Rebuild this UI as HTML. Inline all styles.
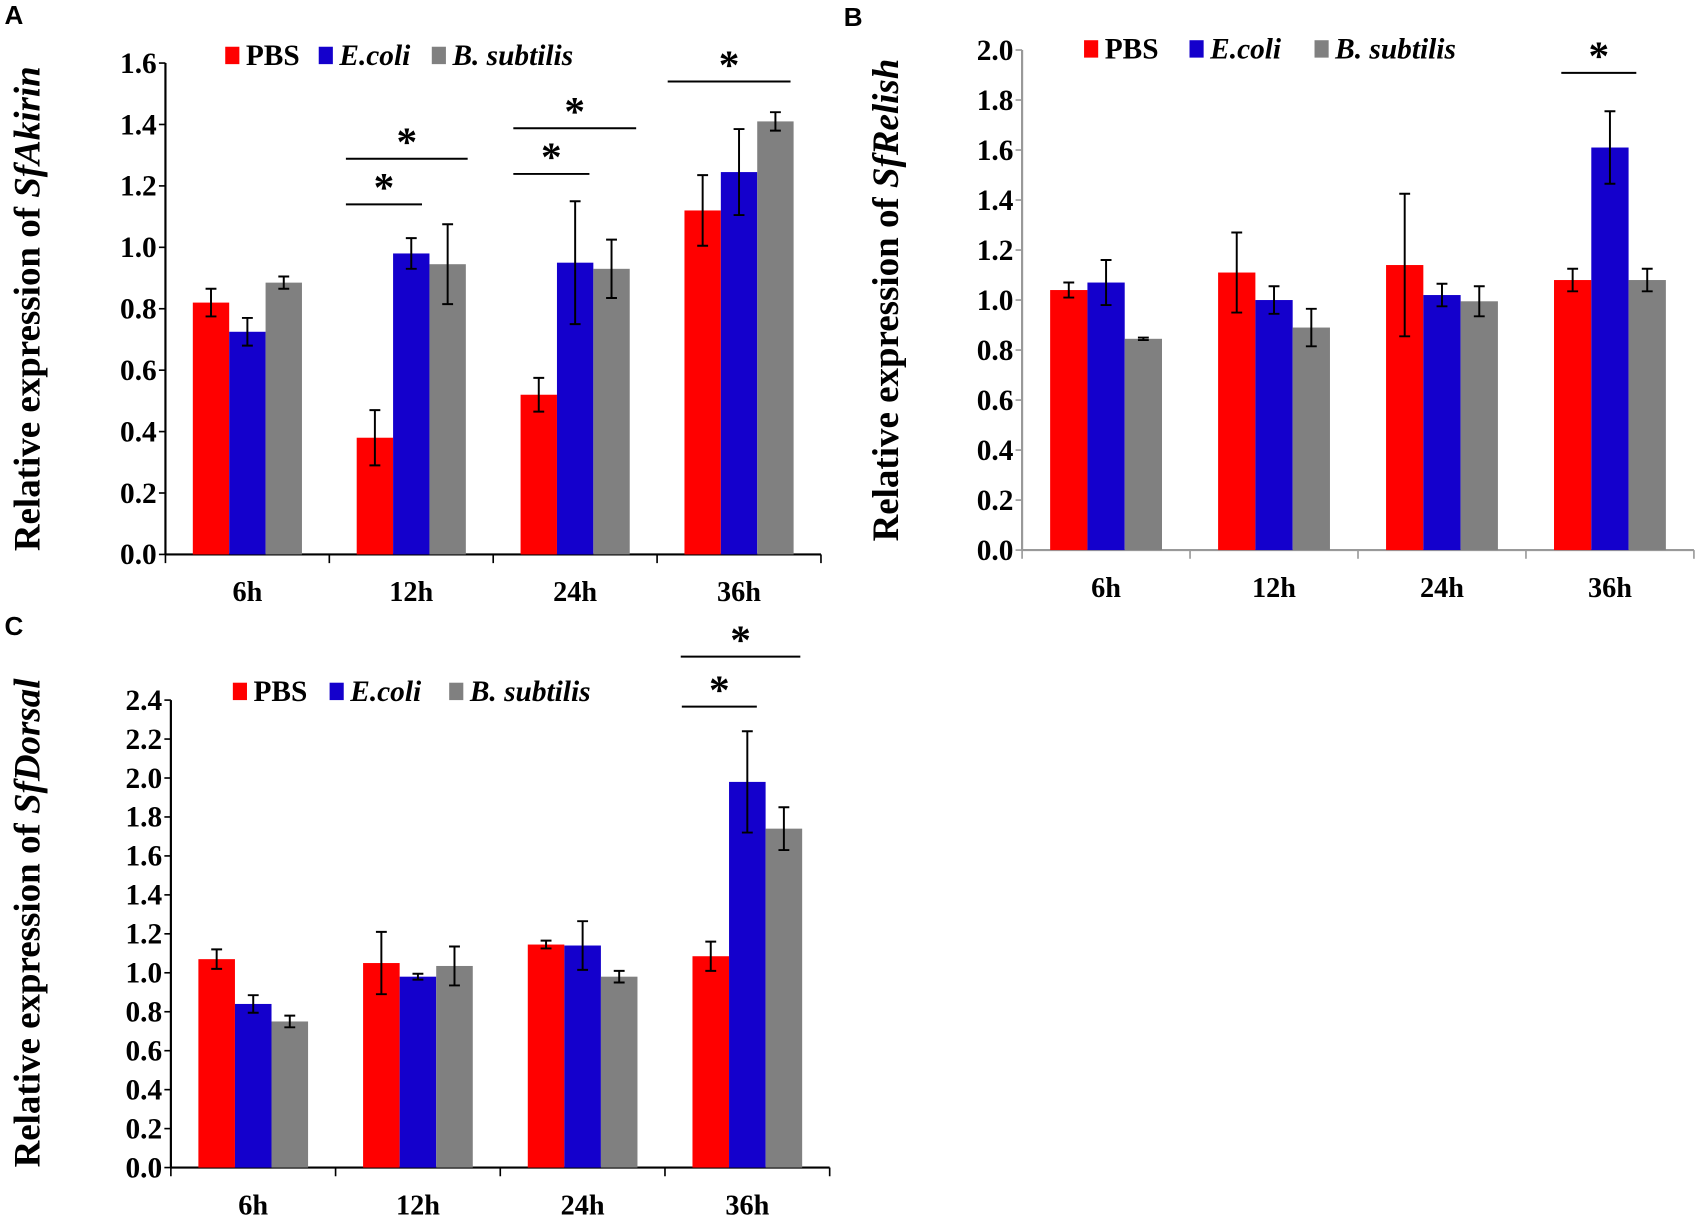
<!DOCTYPE html>
<html><head><meta charset="utf-8"><style>
html,body{margin:0;padding:0;background:#fff}
svg{display:block}
text{font-family:"Liberation Serif",serif;font-weight:bold;fill:#000}
</style></head><body>
<svg id="fig" width="1705" height="1223" viewBox="0 0 1568 1125" xmlns="http://www.w3.org/2000/svg"></svg>
<script>
const categories = ["6h","12h","24h","36h"];
const seriesNames = ["PBS","E.coli","B. subtilis"];
const akirinPBS = [0.82,0.38,0.52,1.12];
const akirinPBSErr = [0.045,0.09,0.055,0.115];
const akirinEcoli = [0.725,0.98,0.95,1.245];
const akirinEcoliErr = [0.045,0.05,0.2,0.14];
const akirinBsub = [0.885,0.945,0.93,1.41];
const akirinBsubErr = [0.02,0.13,0.095,0.03];
const akirinTicks = ["0.0","0.2","0.4","0.6","0.8","1.0","1.2","1.4","1.6"];
const relishPBS = [1.04,1.11,1.14,1.08];
const relishPBSErr = [0.03,0.16,0.285,0.045];
const relishEcoli = [1.07,1.0,1.02,1.61];
const relishEcoliErr = [0.09,0.055,0.045,0.145];
const relishBsub = [0.845,0.89,0.995,1.08];
const relishBsubErr = [0.005,0.075,0.06,0.045];
const relishTicks = ["0.0","0.2","0.4","0.6","0.8","1.0","1.2","1.4","1.6","1.8","2.0"];
const dorsalPBS = [1.07,1.05,1.145,1.085];
const dorsalPBSErr = [0.05,0.16,0.02,0.075];
const dorsalEcoli = [0.84,0.98,1.14,1.98];
const dorsalEcoliErr = [0.045,0.015,0.125,0.26];
const dorsalBsub = [0.75,1.035,0.98,1.74];
const dorsalBsubErr = [0.03,0.1,0.03,0.11];
const dorsalTicks = ["0.0","0.2","0.4","0.6","0.8","1.0","1.2","1.4","1.6","1.8","2.0","2.2","2.4"];

const NS="http://www.w3.org/2000/svg";
const svg=document.getElementById('fig');
const colors=["#ff0000","#1400cc","#808080"];
function mk(tag,attrs,parent){const e=document.createElementNS(NS,tag);for(const k in attrs)e.setAttribute(k,attrs[k]);(parent||svg).appendChild(e);return e;}

function panel(cfg){
  const g=mk('g',{});
  
  
  const ymax=parseFloat(cfg.ticks[cfg.ticks.length-1]);
  const y=v=>cfg.y0-(v/ymax)*(cfg.y0-cfg.yTop);
  const cw=(cfg.x1-cfg.x0)/categories.length;
  const bw=cw*0.222;
  const ax=mk('line',{x1:cfg.x0,y1:cfg.yTop,x2:cfg.x0,y2:cfg.y0,stroke:cfg.axisColor,'stroke-width':2},g);
  
  const xa=mk('line',{x1:cfg.x0,y1:cfg.y0,x2:cfg.x1,y2:cfg.y0,stroke:cfg.axisColor,'stroke-width':2},g);
  
  cfg.ticks.forEach(t=>{
    const yy=y(parseFloat(t));
    mk('line',{x1:cfg.x0-6,y1:yy,x2:cfg.x0,y2:yy,stroke:cfg.axisColor,'stroke-width':1.5},g);
    const tx=mk('text',{x:cfg.x0-8,y:yy+9,'text-anchor':'end','font-size':27},g);
    tx.textContent=t;
    
  });
  for(let i=0;i<=categories.length;i++){
    const xx=cfg.x0+i*cw;
    mk('line',{x1:xx,y1:cfg.y0,x2:xx,y2:cfg.y0+8,stroke:cfg.axisColor,'stroke-width':1.5},g);
  }
  categories.forEach((c,i)=>{
    const cx=cfg.x0+(i+0.5)*cw;
    const tx=mk('text',{x:cx,y:cfg.catY,'text-anchor':'middle','font-size':26},g);
    tx.textContent=c;
    
    cfg.series.forEach((s,k)=>{
      const bx=cx-1.5*bw+k*bw;
      const v=s.v[i],e=s.e[i];
      const r=mk('rect',{x:bx,y:y(v),width:bw,height:cfg.y0-y(v),fill:colors[k]},g);
      
      const mx=bx+bw/2;
      const eb=mk('path',{d:`M${mx},${y(v+e)}V${y(v-e)}M${mx-5},${y(v+e)}H${mx+5}M${mx-5},${y(v-e)}H${mx+5}`,stroke:'#000','stroke-width':1.8,fill:'none'},g);
      
    });
  });
  const yt=mk('text',{transform:`translate(${cfg.titleX},${(cfg.y0+cfg.yTop)/2+cfg.titleDy}) rotate(-90)`,'text-anchor':'middle','font-size':34},g);
  
  yt.textContent='Relative expression of ';
  const ts=mk('tspan',{'font-style':'italic'},yt);ts.textContent=cfg.gene;
  const lg=mk('g',{},g);
  
  cfg.legend.forEach((p,k)=>{
    mk('rect',{x:p[0],y:cfg.legY-17,width:13,height:16,fill:colors[k]},lg);
    const t=mk('text',{x:p[0]+19,y:cfg.legY,'font-size':27,'font-style':k>0?'italic':'normal'},lg);
    t.textContent=seriesNames[k];
    
  });
  cfg.sig.forEach(s=>{
    mk('line',{x1:s[0],y1:s[2],x2:s[1],y2:s[2],stroke:'#000','stroke-width':1.8},g);
    const st=mk('text',{x:(s[0]+s[1])/2,y:s[2]-3,'text-anchor':'middle','font-size':38,'font-family':'Liberation Sans'},g);
    st.textContent='*';
    
  });
  const L=mk('text',{x:cfg.letter[0],y:cfg.letter[1],'font-size':24,style:'font-family:"Liberation Sans",sans-serif'},g);
  L.textContent=cfg.letter[2];
  
}

panel({name:'panel-a-akirin',gene:'SfAkirin',x0:152,x1:755,y0:510,yTop:58,ticks:akirinTicks,axisColor:'#000',catY:553,titleX:36,titleDy:0,legY:60,
  legend:[[207],[293],[397]],
  series:[{v:akirinPBS,e:akirinPBSErr},{v:akirinEcoli,e:akirinEcoliErr},{v:akirinBsub,e:akirinBsubErr}],
  sig:[[318,388,188],[318,430,146],[472,542,160],[472,585,118],[614,727,75]],letter:[4,22,'A']});
panel({name:'panel-b-relish',gene:'SfRelish',x0:940,x1:1558,y0:506,yTop:46,ticks:relishTicks,axisColor:'#999',catY:549,titleX:826,titleDy:0,legY:54,
  legend:[[997],[1094],[1209]],
  series:[{v:relishPBS,e:relishPBSErr},{v:relishEcoli,e:relishEcoliErr},{v:relishBsub,e:relishBsubErr}],
  sig:[[1436,1505,67]],letter:[776,24,'B']});
panel({name:'panel-c-dorsal',gene:'SfDorsal',x0:157,x1:763,y0:1074,yTop:644,ticks:dorsalTicks,axisColor:'#000',catY:1117,titleX:36,titleDy:-10,legY:645,
  legend:[[214],[303],[413]],
  series:[{v:dorsalPBS,e:dorsalPBSErr},{v:dorsalEcoli,e:dorsalEcoliErr},{v:dorsalBsub,e:dorsalBsubErr}],
  sig:[[626,736,604],[627,696,650]],letter:[4,584,'C']});
</script>
</body></html>
